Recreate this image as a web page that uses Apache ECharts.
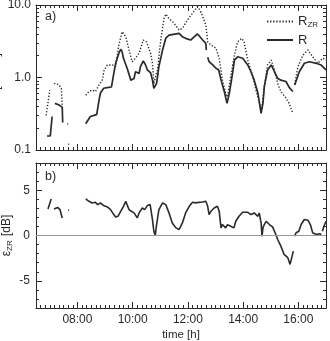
<!DOCTYPE html>
<html>
<head>
<meta charset="utf-8">
<script src="https://cdn.jsdelivr.net/npm/echarts@6/dist/echarts.min.js"></script>
<style>
html, body { margin: 0; padding: 0; background: #fff; }
#chart { width: 330px; height: 341px; }
</style>
</head>
<body>
<div id="chart"></div>
<script>
// a) R_ZR (dotted), null = gap in the record
const zrTime = ['06:52','07:00','07:03','07:09','07:19','07:23','07:25','07:27','07:32',
  '07:38','07:40','07:45',
  '08:18','08:25','08:32','08:39','08:47','08:54','08:58','09:05','09:16','09:23','09:30','09:37','09:45',
  '09:52','09:59','10:06','10:14','10:17','10:23','10:30','10:39','10:43','10:46','10:49','10:54','11:01',
  '11:08','11:12','11:19','11:30','11:41','11:48','11:59','12:10','12:21','12:28','12:39','12:43','12:50',
  '13:01','13:08','13:15','13:21','13:26','13:33','13:41','13:48','13:57','14:02','14:10','14:21','14:28',
  '14:35','14:40','14:46','14:53','15:01','15:08','15:15','15:22','15:33','15:40','15:48','15:50',
  '15:52','15:59','16:10','16:21','16:31','16:42','16:53','17:00'];
const zrVal = [0.30, 0.67, null, 0.83, 0.80, 0.78, 0.71, 0.42, null,
  0.23, 0.23, null,
  0.57, 0.64, 0.67, 0.64, 0.79, 0.92, 1.27, 1.49, 1.49, 1.41, 2.81, 4.28, 3.66,
  2.40, 1.65, 1.84, 2.16, 2.05, 3.29, 3.10, 2.16, 1.57, 0.83, 0.79, 1.27, 3.29,
  6.5, 7.5, 6.5, 5.6, 4.5, 4.77, 6.2, 7.7, 9.5, 8.1, 5.3, 3.1, 2.81,
  2.53, 1.84, 0.92, 0.64, 0.54, 1.03, 2.04, 3.10, 3.47, 3.10, 1.74, 1.03, 0.67,
  0.46, 0.36, 0.75, 1.49, 1.74, 1.27, 0.83, 0.64, 0.52, 0.44, 0.32, null,
  0.80, 1.41, 2.04, 2.40, 1.93, 1.57, 1.84, 1.74];

// a) R (solid)
const rTime = ['06:54','07:01','07:05','07:07','07:11','07:19','07:27','07:28','07:35',
  '07:40','07:42','07:50',
  '08:18','08:28','08:36','08:42','08:47','08:50','08:57','09:08','09:14','09:19','09:23','09:30','09:34',
  '09:37','09:40','09:41','09:48','09:56','09:59','10:03','10:06','10:10','10:14','10:17','10:23','10:28',
  '10:32','10:39','10:43','10:46','10:49','10:52','10:57','11:05','11:12','11:19','11:41','11:48','11:55',
  '12:06','12:14','12:21','12:24','12:32','12:39','12:40','12:41','12:43','12:46','12:54','13:01','13:07',
  '13:12','13:19','13:25','13:30','13:37','13:41','13:48','13:59','14:10','14:17','14:24','14:32','14:39',
  '14:43','14:46','14:53','15:01','15:08','15:15','15:22','15:33','15:40','15:48','15:50',
  '15:52','16:02','16:13','16:24','16:39','16:49','17:00'];
const rVal = [0.156, 0.156, 0.29, null, 0.44, 0.42, 0.39, 0.24, null,
  0.12, 0.12, null,
  0.23, 0.29, 0.30, 0.31, 0.49, 0.61, 0.71, 0.73, 0.74, 1.14, 1.57, 2.16, 2.45,
  2.27, 1.84, 1.93, 1.34, 0.92, 0.88, 0.97, 1.20, 1.22, 1.14, 1.41, 1.69, 1.49,
  1.27, 1.16, 0.92, 0.71, 0.67, 0.83, 1.41, 2.40, 3.50, 3.85, 4.07, 3.66, 3.47,
  3.29, 3.66, 3.98, 3.90, 3.29, 2.96, 2.40, null, 1.90, 1.65, 1.49, 1.34, 1.27,
  0.92, 0.64, 0.44, 0.61, 1.14, 1.74, 1.93, 1.84, 1.49, 1.20, 0.92, 0.61, 0.32,
  0.44, 0.75, 1.27, 1.49, 1.20, 0.97, 0.92, 0.88, 0.73, 0.64, null,
  0.79, 1.20, 1.57, 1.65, 1.57, 1.49, 1.27];

// b) eps_ZR [dB]
const epsTime = ['06:56','07:03','07:05','07:09','07:17','07:22','07:27','07:35',
  '07:40','07:42','07:50',
  '08:18','08:25','08:32','08:39','08:44','08:50','08:57','09:05','09:12','09:19','09:23','09:28','09:34',
  '09:40','09:45','09:48','09:52','09:57','10:03','10:10','10:14','10:21','10:26','10:32','10:38','10:40',
  '10:43','10:46','10:49','10:52','10:57','11:05','11:12','11:19','11:26','11:34','11:41','11:48','11:55',
  '12:03','12:10','12:17','12:24','12:32','12:39','12:43','12:46','12:50','12:57','13:04','13:08','13:12',
  '13:15','13:19','13:22','13:26','13:33','13:37','13:40','13:44','13:51','13:59','14:10','14:17','14:24',
  '14:32','14:35','14:39','14:41','14:43','14:46','14:50','14:57','15:04','15:08','15:11','15:15','15:22',
  '15:29','15:37','15:42','15:46','15:49','15:50',
  '15:52','15:55','16:01','16:06','16:13','16:21','16:26','16:31','16:39','16:46','16:50','16:51',
  '16:52','16:57','17:00'];
const epsVal = [2.93, 4.03, null, 2.93, 3.10, 2.86, 1.94, null,
  2.78, 2.78, null,
  4.03, 3.77, 3.59, 3.66, 3.41, 3.59, 3.30, 3.15, 2.86, 2.31, 2.05, 2.12, 2.67,
  3.22, 3.77, 3.59, 2.86, 2.67, 2.49, 1.94, 2.49, 3.04, 2.86, 3.30, 3.41, 3.20,
  1.76, 0.47, 0.0, 1.21, 2.86, 3.59, 3.41, 2.49, 1.39, 0.84, 0.66, 1.39, 2.49,
  3.22, 3.66, 3.60, 3.66, 3.70, 3.77, 3.22, 2.31, 2.67, 3.04, 3.22, 2.67, 0.84,
  1.21, 1.39, 0.84, 1.20, 1.02, 1.21, 0.84, 1.57, 2.12, 2.56, 2.56, 2.31, 2.49,
  2.12, 2.49, 1.39, -0.07, 0.84, 1.21, 1.57, 1.21, 0.95, 0.84, 0.11, -0.44, -1.17,
  -2.09, -2.45, -3.19, -3.19, -1.72, null,
  -0.07, 0.30, 0.47, 1.21, 1.76, 1.68, 1.21, 0.30, 0.11, 0.19, 0.11, null,
  0.47, 1.21, 1.57];

const xLabels = ['08:00', '10:00', '12:00', '14:00', '16:00'];
const logMinor = [0.2, 0.3, 0.4, 0.5, 0.6, 0.7, 0.8, 0.9, 2, 3, 4, 5, 6, 7, 8, 9];
const epsLabels = [-5, 0, 5];

const FONT = 'Liberation Sans, Arial, sans-serif';
const INK = '#2a2a2a';

function toMin(s) {
  const p = s.split(':');
  return +p[0] * 60 + +p[1];
}
function pad(n) { return (n < 10 ? '0' : '') + n; }
function hhmm(v) { return pad(Math.floor(v / 60)) + ':' + pad(v % 60); }
function pairs(ts, vs) {
  return ts.map((t, i) => [toMin(t), vs[i] == null ? '-' : vs[i]]);
}

const majorX = xLabels.map(toMin);

// x axes: minor ticks every 10 min, longer ticks on the labelled hours
function xAx(g, pos, major, labels) {
  const ax = {
    type: 'value', gridIndex: g, position: pos, min: 390, max: 1020,
    axisLine: { show: !major, onZero: false, lineStyle: { color: INK, width: 1 } },
    axisTick: { show: true, inside: true, length: major ? 6 : 3, lineStyle: { color: INK } },
    axisLabel: { show: false },
    splitLine: { show: false }
  };
  if (major) ax.axisTick.customValues = majorX;
  else ax.interval = 10;
  if (labels) {
    ax.axisLabel = {
      show: true, customValues: majorX, formatter: hhmm,
      margin: 6, fontSize: 12, color: INK, fontFamily: FONT
    };
    ax.name = 'time [h]';
    ax.nameLocation = 'middle';
    ax.nameGap = 21;
    ax.nameMoveOverlap = false;
    ax.nameTextStyle = { fontSize: 11.5, color: INK, fontFamily: FONT };
  }
  return ax;
}

function yLog(pos, labels) {
  const ax = {
    type: 'log', logBase: 10, gridIndex: 0, position: pos, min: 0.1, max: 10,
    axisLine: { show: true, onZero: false, lineStyle: { color: INK, width: 1 } },
    axisTick: { show: true, inside: true, length: 6, lineStyle: { color: INK } },
    axisLabel: { show: labels, formatter: v => v.toFixed(1), margin: 5, fontSize: 12, color: INK, fontFamily: FONT },
    splitLine: { show: false }
  };
  if (labels) {
    // only the edge of this title shows, as in the cropped original
    ax.name = 'R [mm/h]';
    ax.nameLocation = 'middle';
    ax.nameRotate = 90;
    ax.nameGap = 34;
    ax.nameMoveOverlap = false;
    ax.nameTextStyle = { fontSize: 12, color: INK, fontFamily: FONT };
  }
  return ax;
}
function yLogMinor(pos) {
  return {
    type: 'value', gridIndex: 0, position: pos, min: -1, max: 1,
    axisLine: { show: false, onZero: false },
    axisTick: { show: true, inside: true, length: 3, customValues: logMinor.map(Math.log10), lineStyle: { color: INK } },
    axisLabel: { show: false },
    splitLine: { show: false }
  };
}
function yEps(pos, major, labels) {
  const ax = {
    type: 'value', gridIndex: 1, position: pos, min: -8, max: 8,
    axisLine: { show: !major, onZero: false, lineStyle: { color: INK, width: 1 } },
    axisTick: { show: true, inside: true, length: major ? 6 : 3, lineStyle: { color: INK } },
    axisLabel: { show: false },
    splitLine: { show: false }
  };
  if (major) ax.axisTick.customValues = epsLabels;
  else ax.interval = 1;
  if (labels) {
    ax.axisLabel = { show: true, customValues: epsLabels, margin: 6, fontSize: 12, color: INK, fontFamily: FONT };
    ax.name = '{e|ε}{s|ZR} [dB]';
    ax.nameLocation = 'middle';
    ax.nameRotate = 90;
    ax.nameGap = 22;
    ax.nameMoveOverlap = false;
    ax.nameTextStyle = {
      fontSize: 12, color: INK, fontFamily: FONT,
      rich: {
        e: { fontSize: 12, color: INK, fontFamily: FONT },
        s: { fontSize: 8, color: INK, fontFamily: FONT, padding: [6, 1, 0, 0] }
      }
    };
  }
  return ax;
}

const chart = echarts.init(document.getElementById('chart'));
chart.setOption({
  animation: false,
  backgroundColor: '#fff',
  grid: [
    { left: 36, right: 4, top: 5, height: 145, outerBoundsMode: 'none', containLabel: false },
    { left: 36, right: 4, top: 163, height: 145, outerBoundsMode: 'none', containLabel: false }
  ],
  xAxis: [
    xAx(0, 'bottom', false, false), xAx(0, 'top', false, false),
    xAx(0, 'bottom', true, false), xAx(0, 'top', true, false),
    xAx(1, 'bottom', false, true), xAx(1, 'top', false, false),
    xAx(1, 'bottom', true, false), xAx(1, 'top', true, false)
  ],
  yAxis: [
    yLog('left', true), yLogMinor('left'), yLog('right', false), yLogMinor('right'),
    yEps('left', false, true), yEps('left', true, false), yEps('right', false, false), yEps('right', true, false)
  ],
  legend: {
    data: ['R_ZR', 'R'], orient: 'vertical', left: 261, top: 10,
    itemWidth: 26, itemHeight: 12, itemGap: 5,
    itemStyle: { opacity: 0 },
    formatter: n => n === 'R_ZR' ? '{m|R}{s|ZR}' : '{m|R}',
    textStyle: {
      color: INK,
      rich: {
        m: { fontSize: 13, color: INK, fontFamily: FONT },
        s: { fontSize: 8, color: INK, fontFamily: FONT, padding: [6, 0, 0, 0] }
      }
    }
  },
  graphic: [
    { type: 'text', left: 45, top: 10, style: { text: 'a)', fontSize: 12.5, fill: INK, fontFamily: FONT } },
    { type: 'text', left: 45, top: 170, style: { text: 'b)', fontSize: 12.5, fill: INK, fontFamily: FONT } }
  ],
  series: [
    {
      name: 'R_ZR', type: 'line', xAxisIndex: 0, yAxisIndex: 0, symbol: 'none',
      connectNulls: false,
      lineStyle: { color: INK, width: 1.4, type: [1.3, 1.8] },
      itemStyle: { color: INK },
      data: pairs(zrTime, zrVal)
    },
    {
      name: 'R', type: 'line', xAxisIndex: 0, yAxisIndex: 0, symbol: 'none',
      connectNulls: false,
      lineStyle: { color: INK, width: 1.7 },
      itemStyle: { color: INK },
      data: pairs(rTime, rVal)
    },
    {
      name: 'eps', type: 'line', xAxisIndex: 4, yAxisIndex: 4, symbol: 'none',
      connectNulls: false,
      lineStyle: { color: INK, width: 1.6 },
      itemStyle: { color: INK },
      data: pairs(epsTime, epsVal),
      markLine: {
        silent: true, symbol: 'none', label: { show: false },
        lineStyle: { color: '#9a9a9a', width: 1, type: 'solid' },
        data: [{ yAxis: 0 }]
      }
    }
  ]
});
</script>
</body>
</html>
